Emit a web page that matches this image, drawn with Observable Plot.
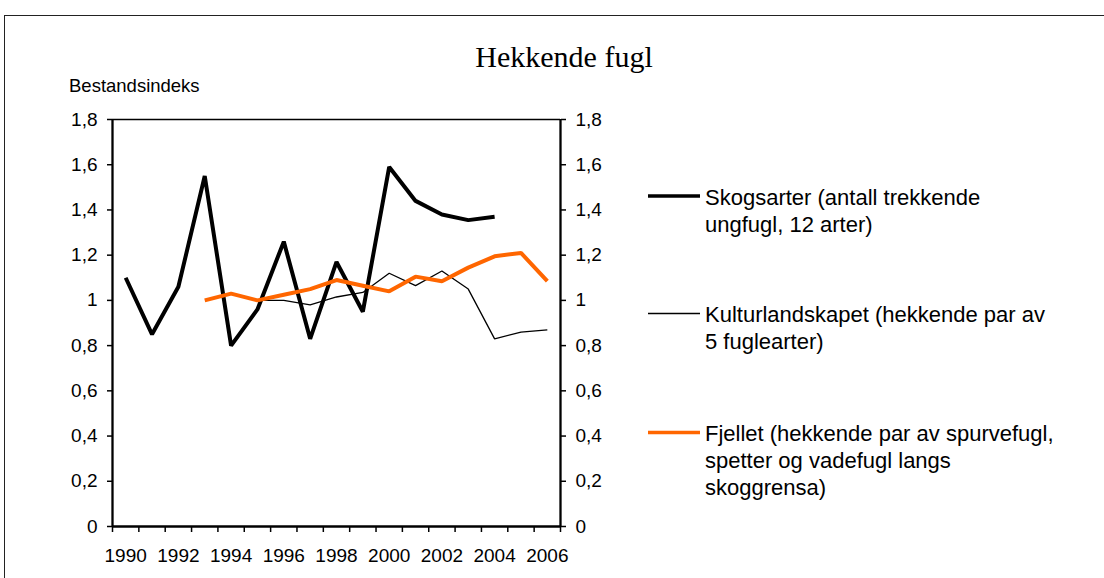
<!DOCTYPE html>
<html>
<head>
<meta charset="utf-8">
<script src="https://cdn.jsdelivr.net/npm/d3@7"></script>
<script src="https://cdn.jsdelivr.net/npm/@observablehq/plot@0.6"></script>
<style>
  html, body { margin: 0; padding: 0; background: #fff; overflow: hidden; }
  #wrap { position: relative; width: 1104px; height: 578px; overflow: hidden; background: #fff; }
  #frame { position: absolute; left: 4px; top: 15px; width: 1200px; height: 700px; border: 1.5px solid #222; box-sizing: border-box; }
  #wrap svg { position: absolute; left: 0; top: 0; }
</style>
</head>
<body>
<div id="wrap"><div id="frame"></div></div>
<script>
// ---- data ----
const title = "Hekkende fugl";
const yLabel = "Bestandsindeks";

const skogYears = [1990,1991,1992,1993,1994,1995,1996,1997,1998,1999,2000,2001,2002,2003,2004];
const skogValues = [1.10,0.85,1.06,1.55,0.80,0.96,1.26,0.83,1.17,0.95,1.59,1.44,1.38,1.355,1.37];

const kulturYears = [1995,1996,1997,1998,1999,2000,2001,2002,2003,2004,2005,2006];
const kulturValues = [1.00,1.00,0.98,1.015,1.035,1.12,1.065,1.13,1.05,0.83,0.86,0.87];

const fjellYears = [1993,1994,1995,1996,1997,1998,1999,2000,2001,2002,2003,2004,2005,2006];
const fjellValues = [1.00,1.03,1.00,1.025,1.05,1.09,1.065,1.04,1.105,1.085,1.145,1.195,1.21,1.085];

const seriesNames = [
  ["Skogsarter (antall trekkende", "ungfugl, 12 arter)"],
  ["Kulturlandskapet (hekkende par av", "5 fuglearter)"],
  ["Fjellet (hekkende par av spurvefugl,", "spetter og vadefugl langs", "skoggrensa)"]
];
const seriesColors = ["#000000", "#000000", "#ff6600"];
const seriesWidths = [4, 1.3, 4];

const yTicks = [0, 0.2, 0.4, 0.6, 0.8, 1, 1.2, 1.4, 1.6, 1.8];
const xLabelYears = [1990, 1992, 1994, 1996, 1998, 2000, 2002, 2004, 2006];
const xTickMarks = d3.range(1989.5, 2007, 1);

// ---- build ----
const toRows = (ys, vs) => ys.map((year, i) => ({year, v: vs[i]}));
const skog = toRows(skogYears, skogValues);
const kultur = toRows(kulturYears, kulturValues);
const fjell = toRows(fjellYears, fjellValues);

const fmt = d => String(+d.toFixed(1)).replace(".", ",");

const chart = Plot.plot({
  width: 1104,
  height: 578,
  marginLeft: 112,
  marginRight: 544,
  marginTop: 119,
  marginBottom: 52,
  x: {domain: [1989.5, 2006.5]},
  y: {domain: [0, 1.8]},
  style: {fontFamily: "'Liberation Sans', Arial, sans-serif", fontSize: "19px", color: "#000", background: "transparent"},
  marks: [
    Plot.ruleY([1.8], {stroke: "#000", strokeWidth: 1.3}),
    Plot.axisY({anchor: "left", ticks: yTicks, tickSize: 5, tickPadding: 10, tickFormat: fmt, label: null, fontSize: 19, strokeWidth: 1.5}),
    Plot.axisY({anchor: "right", ticks: yTicks, tickSize: 5, tickPadding: 10, tickFormat: fmt, label: null, fontSize: 19, strokeWidth: 1.5}),
    Plot.axisX({ticks: xTickMarks, tickSize: 6, tickFormat: () => "", label: null, strokeWidth: 1.5}),
    Plot.axisX({ticks: xLabelYears, tickSize: 0, tickPadding: 22, tickFormat: d => String(d), label: null, fontSize: 19}),
    Plot.ruleX([1989.5, 2006.5], {stroke: "#000", strokeWidth: 2.3}),
    Plot.ruleY([0], {stroke: "#000", strokeWidth: 2.3}),
    Plot.line(skog, {x: "year", y: "v", stroke: seriesColors[0], strokeWidth: seriesWidths[0], strokeLinejoin: "miter", strokeLinecap: "butt"}),
    Plot.line(kultur, {x: "year", y: "v", stroke: seriesColors[1], strokeWidth: seriesWidths[1], strokeLinejoin: "miter", strokeLinecap: "butt"}),
    Plot.line(fjell, {x: "year", y: "v", stroke: seriesColors[2], strokeWidth: seriesWidths[2], strokeLinejoin: "miter", strokeLinecap: "butt"})
  ]
});
document.getElementById("wrap").appendChild(chart);

// ---- overlay: title, y label, legend ----
const ov = d3.select("#wrap").append("svg")
  .attr("width", 1104).attr("height", 578)
  .style("pointer-events", "none");

ov.append("text")
  .attr("x", 564).attr("y", 67)
  .attr("text-anchor", "middle")
  .style("font-family", "'Liberation Serif', 'Times New Roman', serif")
  .style("font-size", "30px")
  .text(title);

ov.append("text")
  .attr("x", 69).attr("y", 92)
  .style("font-family", "'Liberation Sans', Arial, sans-serif")
  .style("font-size", "18.5px")
  .text(yLabel);

const legendLineY = [196, 313.5, 432.5];
seriesNames.forEach((lines, i) => {
  const g = ov.append("g");
  g.append("line")
    .attr("x1", 648).attr("x2", 700)
    .attr("y1", legendLineY[i]).attr("y2", legendLineY[i])
    .attr("stroke", seriesColors[i])
    .attr("stroke-width", i === 1 ? 1.3 : 3.5);
  lines.forEach((t, j) => {
    g.append("text")
      .attr("x", 705).attr("y", legendLineY[i] + 8.5 + j * 27)
      .style("font-family", "'Liberation Sans', Arial, sans-serif")
      .style("font-size", "22px")
      .text(t);
  });
});
</script>
</body>
</html>
